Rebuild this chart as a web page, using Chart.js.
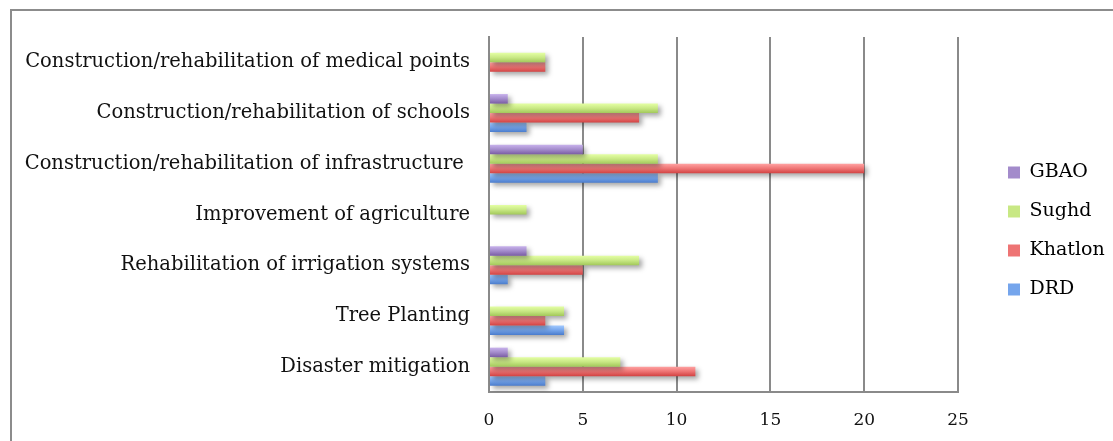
<!DOCTYPE html>
<html>
<head>
<meta charset="utf-8">
<script src="https://cdn.jsdelivr.net/npm/chart.js@4/dist/chart.umd.min.js"></script>
<style>
  html, body { margin: 0; padding: 0; background: #fff; overflow: hidden; }
  #wrap { position: relative; width: 1113px; height: 441px; }
  #frame { position: absolute; left: 10px; top: 9px; width: 1200px; height: 1000px;
           border-top: 2px solid #8c8c8c; border-left: 2px solid #8c8c8c; pointer-events: none; }
</style>
</head>
<body>
<div id="wrap">
  <canvas id="c" width="1113" height="441"></canvas>
  <div id="frame"></div>
</div>
<script>
const categories = [
  'Construction/rehabilitation of medical points',
  'Construction/rehabilitation of schools',
  'Construction/rehabilitation of infrastructure ',
  'Improvement of agriculture',
  'Rehabilitation of irrigation systems',
  'Tree Planting',
  'Disaster mitigation'
];
const seriesNames = ['GBAO', 'Sughd', 'Khatlon', 'DRD'];
const gbao    = [0, 1, 5, 0, 2, 0, 1];
const sughd   = [3, 9, 9, 2, 8, 4, 7];
const khatlon = [3, 8, 20, 0, 5, 3, 11];
const drd     = [0, 2, 9, 0, 1, 4, 3];
const xTicks  = [0, 5, 10, 15, 20, 25];

const palette = [
  { top: '#c8b2ec', mid: '#a38bcb', bot: '#7a5ca4' },
  { top: '#e4ffa4', mid: '#c8e884', bot: '#a2c85a' },
  { top: '#ffa2a2', mid: '#ee7474', bot: '#d24242' },
  { top: '#a2caff', mid: '#75a5ec', bot: '#4a7ccc' }
];

function gradFor(i) {
  return function(ctx) {
    const chart = ctx.chart;
    const meta = chart.getDatasetMeta(ctx.datasetIndex);
    const el = meta && meta.data ? meta.data[ctx.dataIndex] : null;
    if (!el || el.height == null || isNaN(el.y)) return palette[i].mid;
    const t = el.y - el.height / 2, b = el.y + el.height / 2;
    const g = chart.ctx.createLinearGradient(0, t, 0, b);
    g.addColorStop(0, palette[i].top);
    g.addColorStop(0.5, palette[i].mid);
    g.addColorStop(1, palette[i].bot);
    return g;
  };
}

const seriesData = [gbao, sughd, khatlon, drd];
const datasets = seriesNames.map((n, i) => ({
  label: n,
  data: seriesData[i],
  backgroundColor: gradFor(i),
  borderWidth: 0,
  categoryPercentage: 0.75,
  barPercentage: 1.0
}));

const shadowPlugin = {
  id: 'shadow',
  beforeDatasetsDraw(chart) {
    const c = chart.ctx;
    c.save();
    c.shadowColor = 'rgba(0,0,0,0.35)';
    c.shadowBlur = 5;
    c.shadowOffsetX = 3;
    c.shadowOffsetY = 3;
  },
  afterDatasetsDraw(chart) { chart.ctx.restore(); }
};

// fix legend width and shift it into place
const legendPlace = {
  id: 'legendPlace',
  beforeLayout(chart) {
    const lg = chart.legend;
    if (lg && !lg._patched) {
      const orig = lg.fit;
      lg.fit = function() { orig.call(this); this.width = 145; };
      lg._patched = true;
    }
  },
  afterLayout(chart) {
    const lg = chart.legend;
    if (lg) { lg.left += 30; lg.right += 30; lg.top -= 4; lg.bottom -= 4; }
  }
};

const serif = "'DejaVu Serif', serif";
const chart = new Chart(document.getElementById('c'), {
  type: 'bar',
  data: { labels: categories, datasets },
  plugins: [shadowPlugin, legendPlace],
  options: {
    indexAxis: 'y',
    responsive: false,
    animation: false,
    layout: { padding: { left: 11, top: 37, right: 10, bottom: 8 } },
    scales: {
      x: {
        min: 0, max: 25,
        afterBuildTicks(scale) { scale.ticks = xTicks.map(v => ({ value: v })); },
        afterFit(scale) { scale.height = 41; },
        ticks: { color: '#111', font: { family: serif, size: 17 }, padding: 18 },
        grid: { color: '#8a8a8a', lineWidth: 2, drawTicks: false },
        border: { color: '#8a8a8a', width: 2 }
      },
      y: {
        afterFit(scale) { scale.width = 478; },
        ticks: { color: '#111', font: { family: serif, size: 19.5 }, padding: 19 },
        grid: { display: false, drawTicks: false },
        border: { color: '#8a8a8a', width: 2 }
      }
    },
    plugins: {
      legend: {
        position: 'right',
        labels: { color: '#111', font: { family: serif, size: 19 }, boxWidth: 12, boxHeight: 12, padding: 20,
          generateLabels(ch) {
            return ch.data.datasets.map((d, i) => ({
              text: d.label, fillStyle: palette[i].mid, strokeStyle: palette[i].mid, lineWidth: 0,
              datasetIndex: i, hidden: false
            }));
          }
        }
      },
      tooltip: { enabled: false }
    }
  }
});
chart.update('none');
</script>
</body>
</html>
